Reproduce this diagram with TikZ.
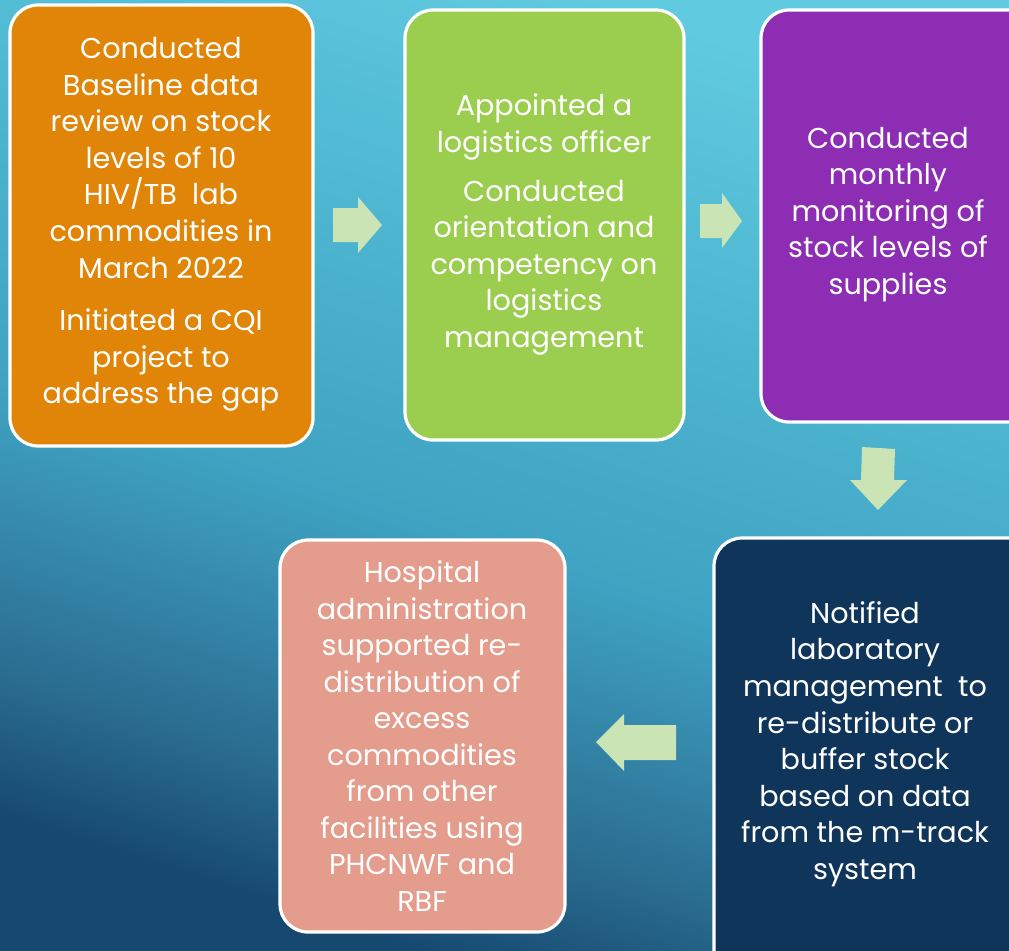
\documentclass[tikz,border=0pt]{standalone}
\usepackage{fontspec}
\setmainfont{Poppins}
\definecolor{bgtop}{HTML}{60CAE0}
\definecolor{bgup}{HTML}{4DB5D0}
\definecolor{bgmid}{HTML}{3FA2C2}
\definecolor{bglow}{HTML}{2A6C90}
\definecolor{bgbot}{HTML}{164870}
\pgfdeclareverticalshading{bgshade}{100bp}{color(0bp)=(bgbot); color(25bp)=(bgbot); color(32bp)=(bglow); color(46bp)=(bgmid); color(60bp)=(bgup); color(75bp)=(bgtop); color(100bp)=(bgtop)}
\begin{document}
\begin{tikzpicture}[x=0.75pt,y=-0.75pt,
  box/.style={draw=white,line width=2.4pt,rounded corners=21pt},
  lbl/.style={text=white,align=center,font=\fontsize{21.5}{27.4}\selectfont,inner sep=0pt},
  arr/.style={fill=arrowgreen,draw=none}]
\definecolor{orangebox}{HTML}{E08508}
\definecolor{greenbox}{HTML}{9BCD4E}
\definecolor{purplebox}{HTML}{8C2DB4}
\definecolor{navybox}{HTML}{10355A}
\definecolor{salmonbox}{HTML}{E49C8C}
\definecolor{arrowgreen}{HTML}{CBE4B5}
\useasboundingbox (0,0) rectangle (1009,950);
\clip (0,0) rectangle (1009,950);
\shade[shading=bgshade,shading angle=-18] (0,0) rectangle (1009,950);
% boxes
\draw[box,fill=orangebox] (10,5) rectangle (313,446);
\draw[box,fill=greenbox] (405,10) rectangle (684,440);
\draw[box,fill=purplebox] (761,10) rectangle (1040,422);
\draw[box,fill=navybox] (714,538) rectangle (1040,980);
\draw[box,fill=salmonbox] (280,540) rectangle (565,932);
% texts
\node[lbl] (t1) at (161,224.5) {Conducted\\Baseline data\\review on stock\\levels of 10\\HIV/TB\ \ lab\\commodities in\\March 2022\\[12pt]Initiated a CQI\\project to\\address the gap};
\node[lbl] (t2) at (544,224.5) {Appointed a\\logistics officer\\[9pt]Conducted\\orientation and\\competency on\\logistics\\management};
\node[lbl] (t3) at (888,214.5) {Conducted\\monthly\\monitoring of\\stock levels of\\supplies};
\node[lbl] (t4) at (865,744) {Notified\\laboratory\\management\ \ to\\re-distribute or\\buffer stock\\based on data\\from the m-track\\system};
\node[lbl] (t5) at (422,736) {Hospital\\administration\\supported re-\\distribution of\\excess\\commodities\\from other\\facilities using\\PHCNWF and\\RBF};
% arrows
\fill[arr] (333,208) -- (358,208) -- (358,197) -- (382,225) -- (358,253) -- (358,242) -- (333,242) -- cycle;
\fill[arr] (700,204) -- (722,204) -- (722,193) -- (742,221) -- (722,248) -- (722,238) -- (700,238) -- cycle;
\fill[arr] (862,447) -- (895,449) -- (894,480) -- (907,480) -- (878,510) -- (850,480) -- (861,480) -- cycle;
\fill[arr] (676,725) -- (624,725) -- (624,714) -- (596,742) -- (624,771) -- (624,760) -- (676,760) -- cycle;
\end{tikzpicture}
\end{document}
